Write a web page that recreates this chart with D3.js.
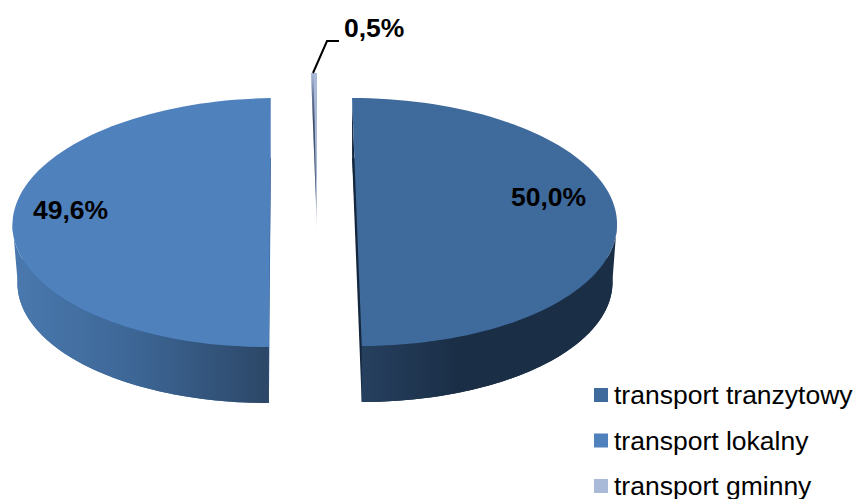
<!DOCTYPE html>
<html><head><meta charset="utf-8">
<script src="https://cdnjs.cloudflare.com/ajax/libs/d3/7.8.5/d3.min.js"></script>
<style>html,body{margin:0;padding:0;background:#fff}svg{display:block}
text{font-family:"Liberation Sans",Arial,sans-serif;fill:#000}</style></head>
<body><div id="c"></div>
<script>
const categories = ["transport tranzytowy","transport lokalny","transport gminny"];
const values = [50.0,49.6,0.5];
const labels = ["50,0%","49,6%","0,5%"];
const topColors = ["#3f6a9c","#4f81bd","#a9b9d8"];
const cutColors = ["#15273d","#3a659a","#5a6a85"];
const wallStops = [["#26405f","#1a2e46","#1a2e46"],["#4a79af","#3c6594","#2c4767"],["#888","#888","#888"]];

const W=857,H=499;
const svg=d3.select("#c").append("svg").attr("width",W).attr("height",H);
const defs=svg.append("defs");

// exploded slice placement (px) and projection per slice
const centerX=[356.5,273.5,317];
const centerY=[222,222.5,230];
const radiusX=[260.5,261,190];
const radiusY=[124,124.5,157];
const shear=[0.036,-0.044,0];
const depth=[58,58,0];
const bottomRadiusX=[256,256,190];
const bottomRadiusY=[122,122.5,157];

const pie=d3.pie().sort(null).value(d=>d)(values);
const project=(i,a,bottom)=>{
  const rx=bottom?bottomRadiusX[i]:radiusX[i], ry=bottom?bottomRadiusY[i]:radiusY[i];
  const cy=centerY[i]+(bottom?depth[i]:0);
  const dy=-ry*Math.cos(a);
  return [centerX[i]+rx*Math.sin(a)+shear[i]*dy, cy+dy];
};
const arcPts=(i,a0,a1,bottom)=>d3.range(0,1.0001,1/90).map(t=>project(i,a0+(a1-a0)*t,bottom));
const line=d3.line();
const g=svg.append("g");

// walls and lower faces
pie.forEach((p,i)=>{
  if(!depth[i])return;
  g.append("path").attr("d",line(arcPts(i,p.startAngle,p.endAngle,true))+"Z").attr("fill",cutColors[i]);
  // tapered sliver of the cut face along the straight edge of the top face
  const rear=Math.cos(p.startAngle)>0?p.startAngle:p.endAngle;
  const front=rear===p.startAngle?p.endAngle:p.startAngle;
  g.append("path").attr("d",line([project(i,rear,false),project(i,rear,true),project(i,front,false)])+"Z").attr("fill",cutColors[i]);
  const a0=Math.max(p.startAngle,Math.PI/2),a1=Math.min(p.endAngle,3*Math.PI/2);
  const pts=arcPts(i,a0,a1,false).concat(arcPts(i,a0,a1,true).reverse());
  const xs=d3.extent(pts,d=>d[0]);
  const id="wall"+i;
  const lg=defs.append("linearGradient").attr("id",id).attr("gradientUnits","userSpaceOnUse")
    .attr("x1",xs[0]).attr("x2",xs[1]).attr("y1",0).attr("y2",0);
  const off=i===0?[0,0.38,1]:[0,0.5,1];
  wallStops[i].forEach((c,k)=>lg.append("stop").attr("offset",off[k]).attr("stop-color",c));
  g.append("path").attr("d",line(pts)+"Z").attr("fill",`url(#${id})`);
});
// top faces
pie.forEach((p,i)=>{
  if(i===2)return;
  g.append("path").attr("d",line(arcPts(i,p.startAngle,p.endAngle,false))+"Z").attr("fill",topColors[i]);
});
// thin slice: light wedge with dark inner face, fading at the tip
{
  const i=2,p=pie[2];
  const tip=project(i,p.startAngle,false); 
  const cx=centerX[i],cy=centerY[i];
  const lg=defs.append("linearGradient").attr("id","thin").attr("gradientUnits","userSpaceOnUse")
    .attr("x1",0).attr("x2",0).attr("y1",cy-radiusY[i]).attr("y2",cy);
  [[0,topColors[2]],[0.65,topColors[2]],[1,"#ffffff"]].forEach(s=>lg.append("stop").attr("offset",s[0]).attr("stop-color",s[1]));
  const dk=defs.append("linearGradient").attr("id","thinDark").attr("gradientUnits","userSpaceOnUse")
    .attr("x1",0).attr("x2",0).attr("y1",cy-radiusY[i]).attr("y2",cy);
  [[0,"#4a5a78",0],[0.15,"#4a5a78",0.7],[0.3,"#3f4c68",1],[0.75,"#55617a",1],[1,"#ccd0d8",0.6]].forEach(s=>dk.append("stop").attr("offset",s[0]).attr("stop-color",s[1]).attr("stop-opacity",s[2]));
  const rim=arcPts(i,p.startAngle,p.endAngle,false);
  g.append("path").attr("d",line([[cx,cy],...rim])+"Z").attr("fill","url(#thin)");
  const mid=project(i,p.startAngle+(p.endAngle-p.startAngle)*0.42,false);
  g.append("path").attr("d",line([[cx,cy],tip,mid])+"Z").attr("fill","url(#thinDark)");
}

// leader line
const leader=[[313,73],[327,41],[339,41]];
svg.append("path").attr("d",line(leader)).attr("fill","none").attr("stroke","#000").attr("stroke-width",2);

// data labels
const labelX=[511,33,344],labelY=[206,219,37];
svg.selectAll("text.lab").data(labels).join("text").attr("class","lab")
  .attr("x",(d,i)=>labelX[i]).attr("y",(d,i)=>labelY[i])
  .attr("font-size",26.5).attr("font-weight","bold").text(d=>d);

// legend
const ly=d3.scalePoint().domain(categories).range([395,486]);
const leg=svg.selectAll("g.leg").data(categories).join("g").attr("class","leg")
  .attr("transform",d=>`translate(0,${ly(d)})`);
leg.append("rect").attr("x",594).attr("y",-7).attr("width",14).attr("height",14).attr("fill",(d,i)=>topColors[i]);
leg.append("text").attr("x",614).attr("y",9).attr("font-size",26.5).text(d=>d);
</script></body></html>
